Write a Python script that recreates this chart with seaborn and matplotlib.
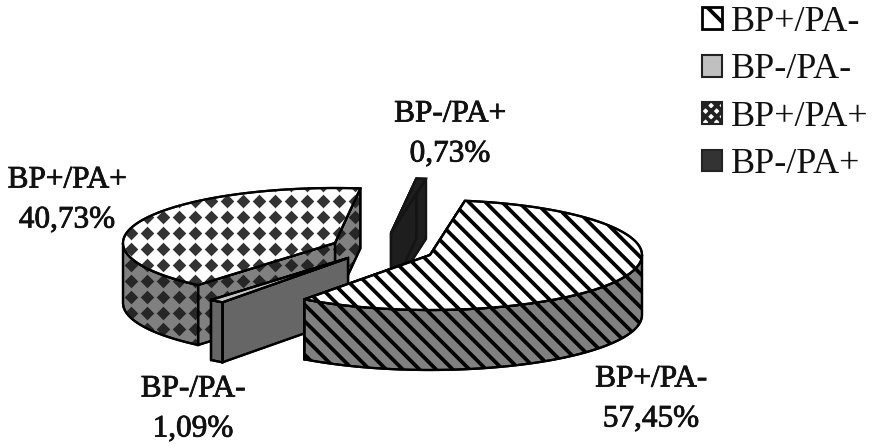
import numpy as np
import matplotlib
matplotlib.use("Agg")
import matplotlib.pyplot as plt
from matplotlib.patches import Polygon, Patch
from matplotlib.patheffects import withStroke
import seaborn as sns

categories = ["BP+/PA-", "BP-/PA-", "BP+/PA+", "BP-/PA+"]
shares = [57.45, 1.09, 40.73, 0.73]

# layout and styling, in pixels of the 879x446 canvas
FIRST_ANGLE = 9.5
RX, RY, DEPTH = 212, 55, 60
centres = [(430, 255), (348, 258), (335, 243), (391, 233)]
draw_order = [3, 2, 1, 0]
label_xy = [(651, 399), (193, 409), (67, 200), (450, 134)]
top_colours = ["white", "#c4c4c4", "white", "#1e1e1e"]
side_colours = ["#808080", "#666666", "#808080", "#1e1e1e"]
edge_colours = ["black", "black", "black", "#141414"]
patterns = ["stripes", None, "diamonds", None]

sns.set_theme(style="white")
plt.rcParams["font.family"] = ["Liberation Serif", "DejaVu Serif"]
plt.rcParams["hatch.linewidth"] = 2.7

fig = plt.figure(figsize=(8.79, 4.46), dpi=100)
ax = fig.add_axes([0, 0, 1, 1])

z = [10]


def pt(c, t, drop=0.0):
    r = np.radians(t)
    return np.column_stack([c[0] + RX * np.sin(r), c[1] - RY * np.cos(r) + drop])


def diamonds(poly, colour, zorder):
    gx, gy = np.meshgrid(np.arange(3.2, 880, 16), np.arange(9.2, 447, 16))
    sns.scatterplot(x=gx.ravel(), y=gy.ravel(), marker="D", s=48, color=colour,
                    linewidth=0, legend=False, ax=ax, zorder=zorder)
    ax.collections[-1].set_clip_path(poly)


def face(xy, colour, pattern, dark, edge):
    z[0] += 1
    hatch = "\\\\" if pattern == "stripes" else None
    poly = Polygon(xy, closed=True, facecolor=colour, edgecolor=edge,
                   linewidth=1.6, hatch=hatch, zorder=z[0], joinstyle="round")
    ax.add_patch(poly)
    if pattern == "diamonds":
        z[0] += 1
        diamonds(poly, dark, z[0])
    z[0] += 1
    ax.add_patch(Polygon(xy, closed=True, fill=False, edgecolor=edge,
                         linewidth=1.6, zorder=z[0]))


angles = FIRST_ANGLE + 360 * np.concatenate([[0], np.cumsum(shares)]) / 100.0
for i in draw_order:
    c, t0, t1 = centres[i], angles[i], angles[i + 1]
    apex = np.array([c], float)
    apex_low = apex + [0, DEPTH]
    for t in (t1, t0):
        a, b = pt(c, t), pt(c, t, DEPTH)
        face(np.vstack([apex, a, b, apex_low]), side_colours[i], patterns[i], "#262626", edge_colours[i])
    lo, hi = max(t0, 90), min(t1, 270)
    if hi > lo:
        ts = np.linspace(lo, hi, 80)
        face(np.vstack([pt(c, ts), pt(c, ts[::-1], DEPTH)]), side_colours[i], patterns[i], "#262626", edge_colours[i])
    ts = np.linspace(t0, t1, 160)
    face(np.vstack([apex, pt(c, ts)]), top_colours[i], patterns[i], "#333333", edge_colours[i])

for name, v, (x, y) in zip(categories, shares, label_xy):
    ax.text(x, y, f"{name}\n{v:.2f}".replace(".", ",") + "%", ha="center", va="center",
            fontsize=22.5, color="#111111", linespacing=1.5, zorder=200,
            path_effects=[withStroke(linewidth=0.6, foreground="#111111")])

handles = [
    Patch(facecolor="white", edgecolor="black", hatch="\\", linewidth=2),
    Patch(facecolor="#c0c0c0", edgecolor="#222222", linewidth=1.5),
    Patch(facecolor="white", edgecolor="#222222", hatch="xxx", linewidth=1.5),
    Patch(facecolor="#333333", edgecolor="#222222", linewidth=1.5),
]
ax.legend(handles, categories, loc="upper left", bbox_to_anchor=(702 / 879, 1 - 6 / 446),
          frameon=False, fontsize=26, handlelength=0.55, handleheight=0.55,
          handletextpad=0.25, labelspacing=0.40, borderpad=0, borderaxespad=0,
          labelcolor="#111111")

ax.set_xlim(0, 879)
ax.set_ylim(446, 0)
ax.axis("off")
fig.savefig("out.png", dpi=100, facecolor="white")
